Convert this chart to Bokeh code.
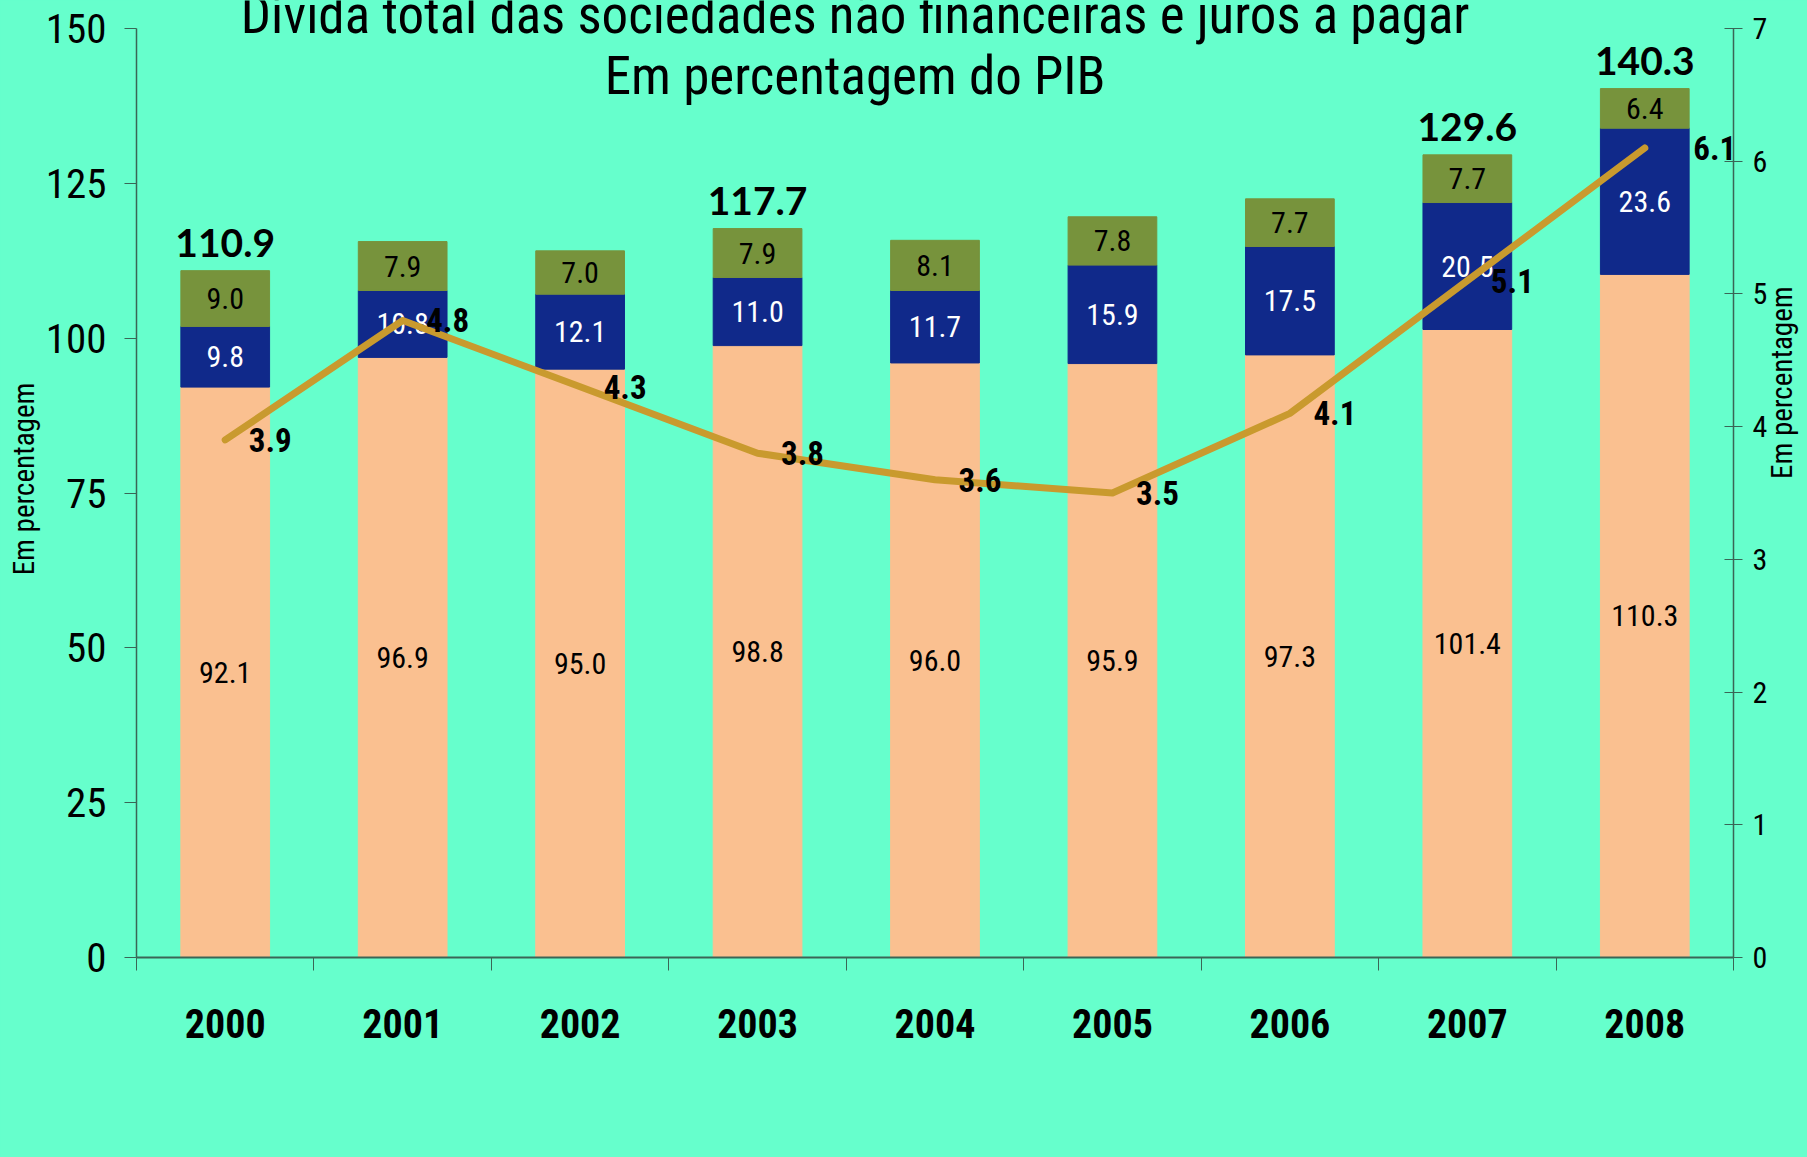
import math
import numpy as np
from bokeh.plotting import figure
from bokeh.models import (Range1d, LinearAxis, FixedTicker, Label, Legend, LegendItem,
                          ColumnDataSource)
from bokeh.core.properties import value
from bokeh.embed import file_html
from bokeh.resources import INLINE

# ---------------- data ----------------
years = ["2000", "2001", "2002", "2003", "2004", "2005", "2006", "2007", "2008"]
creditos = [92.1, 96.9, 95.0, 98.8, 96.0, 95.9, 97.3, 101.4, 110.3]
titulos = [9.8, 10.8, 12.1, 11.0, 11.7, 15.9, 17.5, 20.5, 23.6]
comerciais = [9.0, 7.9, 7.0, 7.9, 8.1, 7.8, 7.7, 7.7, 6.4]
juros = [3.9, 4.8, 4.3, 3.8, 3.6, 3.5, 4.1, 5.1, 6.1]
total_label_years = ["2000", "2003", "2007", "2008"]
left_ticks = [0, 25, 50, 75, 100, 125, 150]
right_ticks = [0, 1, 2, 3, 4, 5, 6, 7]
title_lines = ["Dívida total das sociedades não financeiras e juros a pagar",
               "Em percentagem do PIB"]
axis_label_text = "Em percentagem"
legend_labels = ["Créditos comerciais", "Títulos", "Créditos (exc. Off-shores)",
                 "Juros a pagar (esc. direita)"]

# ---------------- style ----------------
BG = "#66FFCC"
GREEN = "#77933C"
BLUE = "#10298A"
PEACH = "#FAC090"
GOLD = "#C99A2E"
AXIS = "#3A6656"
NARROW = "Roboto Condensed, Liberation Sans Narrow, DejaVu Sans Condensed, Roboto"
BOLDF = "Lato"

n = len(years)
xc = [i + 0.5 for i in range(n)]          # category centres on the x scale
bounds = list(range(n + 1))               # category boundaries

# frame runs from the top of the canvas; axes are bounded to their tick range
TOP_PAD = 28.0 / 928.5                      # share of the axis length above the top tick
ymax_l = left_ticks[-1] * (1 + TOP_PAD)
ymax_r = right_ticks[-1] * (1 + TOP_PAD)

p = figure(width=1807, height=1157, x_range=Range1d(0, n),
           y_range=Range1d(0, ymax_l),
           x_axis_location=None, y_axis_location=None,
           output_backend="svg", toolbar_location=None,
           min_border_left=136, min_border_right=70, min_border_top=0,
           min_border_bottom=0,
           background_fill_color=BG, border_fill_color=BG, outline_line_color=None)
p.frame_height = 957
p.frame_width = 1597
p.extra_y_ranges = {"r": Range1d(0, ymax_r)}
p.grid.visible = False

# axes
yl = LinearAxis(ticker=FixedTicker(ticks=left_ticks), bounds=(left_ticks[0], left_ticks[-1]))
yl.axis_line_color = AXIS
yl.axis_line_width = 1.5
yl.major_tick_line_color = AXIS
yl.major_tick_out = 12
yl.major_tick_in = 0
yl.minor_tick_line_color = None
yl.major_label_standoff = 18
yl.major_label_text_font = NARROW
yl.major_label_text_font_size = "41px"
yl.major_label_text_color = "black"
yl.axis_label = axis_label_text
yl.axis_label_standoff = 2
yl.axis_label_text_font = NARROW
yl.axis_label_text_font_style = "normal"
yl.axis_label_text_font_size = "29px"
yl.axis_label_text_color = "black"
p.add_layout(yl, "left")

yr = LinearAxis(y_range_name="r", ticker=FixedTicker(ticks=right_ticks),
                bounds=(right_ticks[0], right_ticks[-1]))
yr.axis_line_color = AXIS
yr.axis_line_width = 1.5
yr.major_tick_line_color = AXIS
yr.major_tick_out = 9
yr.major_tick_in = 9
yr.minor_tick_line_color = None
yr.major_label_standoff = 10
yr.major_label_text_font = NARROW
yr.major_label_text_font_size = "30px"
yr.major_label_text_color = "black"
yr.axis_label = axis_label_text
yr.axis_label_standoff = 12
yr.axis_label_text_font = NARROW
yr.axis_label_text_font_style = "normal"
yr.axis_label_text_font_size = "29px"
yr.axis_label_text_color = "black"
try:
    yr.axis_label_orientation = math.pi / 2
except Exception:
    pass
p.add_layout(yr, "right")

xb = LinearAxis(ticker=FixedTicker(ticks=xc, minor_ticks=bounds),
                major_label_overrides={c: y for c, y in zip(xc, years)})
xb.axis_line_color = AXIS
xb.axis_line_width = 2
xb.major_tick_line_color = None
xb.minor_tick_line_color = AXIS
xb.minor_tick_out = 13
xb.minor_tick_in = 0
xb.major_tick_out = 0
xb.major_tick_in = 0
xb.major_label_standoff = 38
xb.major_label_text_font = NARROW
xb.major_label_text_font_style = "bold"
xb.major_label_text_font_size = "40px"
xb.major_label_text_color = "black"
p.add_layout(xb, "below")

# bars
src = ColumnDataSource(dict(x=xc, creditos=creditos, titulos=titulos,
                            comerciais=comerciais))
rs = p.vbar_stack(["creditos", "titulos", "comerciais"], x="x", width=0.5,
                  color=[PEACH, BLUE, GREEN], source=src)

cr = np.array(creditos)
ti = np.array(titulos)
co = np.array(comerciais)
tot = cr + ti + co

lab = ColumnDataSource(dict(
    x=xc * 3,
    y=list(cr / 2) + list(cr + ti / 2) + list(cr + ti + co / 2),
    t=["%.1f" % v for v in creditos] + ["%.1f" % v for v in titulos] + ["%.1f" % v for v in comerciais],
    c=["black"] * n + ["white"] * n + ["black"] * n,
))
p.text(x="x", y="y", text="t", text_color="c", source=lab, text_align="center",
       text_baseline="middle", text_font=value(NARROW), text_font_size="30px")

sel = [years.index(y) for y in total_label_years]
p.text(x=[xc[i] for i in sel], y=[float(tot[i]) for i in sel],
       text=["%.1f" % tot[i] for i in sel], text_align="center", text_baseline="middle",
       y_offset=-28, text_font=value(BOLDF), text_font_style="bold",
       text_font_size="39px", text_color="black")

# line
lr = p.line(x=xc, y=juros, y_range_name="r", line_width=7, line_color=GOLD,
            line_cap="round", line_join="round")
p.text(x=xc[:-1], y=juros[:-1], text=["%.1f" % v for v in juros[:-1]],
       y_range_name="r", x_offset=45, text_align="center", text_baseline="middle",
       text_font=value(NARROW), text_font_style="bold", text_font_size="33px",
       text_color="black")
p.text(x=xc[-1:], y=juros[-1:], text=["%.1f" % v for v in juros[-1:]],
       y_range_name="r", x_offset=70, text_align="center", text_baseline="middle",
       text_font=value(NARROW), text_font_style="bold", text_font_size="33px",
       text_color="black")

# title
p.add_layout(Label(x=4.05, y=152.2, text=title_lines[0],
                   text_align="center", text_baseline="middle",
                   text_font=NARROW, text_font_size="53px", text_color="black"))
p.add_layout(Label(x=4.05, y=142.4, text=title_lines[1],
                   text_align="center", text_baseline="middle",
                   text_font=NARROW, text_font_size="53px", text_color="black"))

# legend
legend = Legend(items=[LegendItem(label=legend_labels[0], renderers=[rs[2]]),
                       LegendItem(label=legend_labels[1], renderers=[rs[1]]),
                       LegendItem(label=legend_labels[2], renderers=[rs[0]]),
                       LegendItem(label=legend_labels[3], renderers=[lr])],
                orientation="horizontal", location="top_left", spacing=76,
                glyph_width=58, glyph_height=22, label_standoff=4, padding=0,
                margin=0, border_line_color=None, background_fill_alpha=0,
                label_text_font=NARROW, label_text_font_size="37px",
                label_text_color="black",
                title=" ", title_text_font_size="12px", title_standoff=30)
p.add_layout(legend, "below")

html = file_html(p, INLINE)
html = html.replace("</head>", "<style>body{background:%s;}</style></head>" % BG)
open("out.html", "w").write(html)
